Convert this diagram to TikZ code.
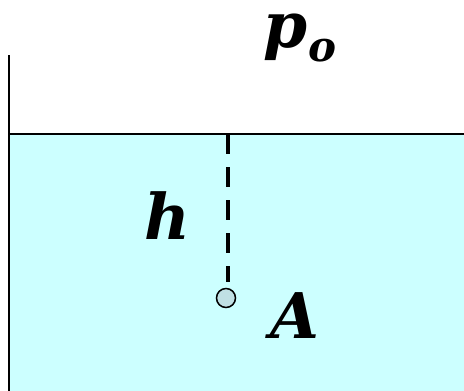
\documentclass[tikz,border=0pt]{standalone}
\usepackage{fontspec}
\setmainfont{DejaVu Serif}
\begin{document}
\begin{tikzpicture}[x=1pt,y=-1pt,
  lbl/.style={font=\fontsize{63}{65}\selectfont\bfseries\itshape, inner sep=0pt},
  wall/.style={line width=2pt, black}]
\useasboundingbox (0,0) rectangle (464,391);
\fill[fill={rgb,255:red,204;green,255;blue,255}] (9,134) rectangle (464,391);
\coordinate (wt) at (9,55);
\coordinate (wb) at (9,391);
\coordinate (sl) at (9,134);
\coordinate (sr) at (464,134);
\draw[wall] (wt) -- (wb);
\draw[wall] (sl) -- (sr);
\node[circle, draw=black, line width=1.5pt, fill={rgb,255:red,192;green,224;blue,228}, minimum size=19pt, inner sep=0pt] (A) at (226,298) {};
\coordinate (ht) at (228,134);
\draw[line width=4pt, dash pattern=on 20pt off 13pt] (ht) -- (228,282);
\node[lbl] (hl) at (167,216) {h};
\node[lbl] (Al) at (295,316) {A};
\node[lbl] (pl) at (300,38) {p\raisebox{-0.22em}{\fontsize{42}{44}\selectfont o}};
\end{tikzpicture}
\end{document}
